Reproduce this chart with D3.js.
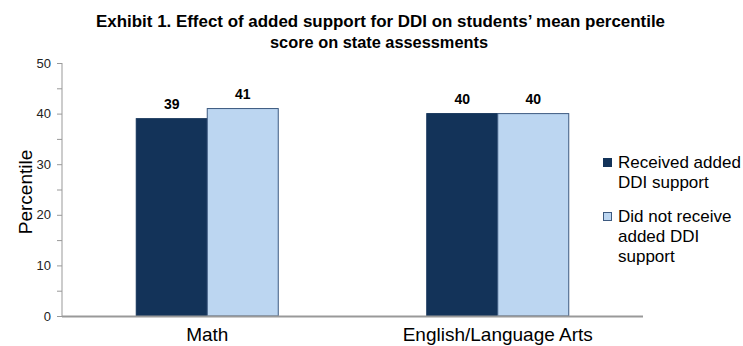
<!DOCTYPE html>
<html>
<head>
<meta charset="utf-8">
<script src="https://cdn.jsdelivr.net/npm/d3@7"></script>
<style>
  body { margin: 0; background: #fff; }
  svg { display: block; }
</style>
</head>
<body>
<svg id="chart" width="743" height="346"></svg>
<script>
// data
const categories = ['Math', 'English/Language Arts'];
const seriesNames = ['Received added DDI support', 'Did not receive added DDI support'];
const received = [39, 40];
const notReceived = [41, 40];
const yTicks = [0, 10, 20, 30, 40, 50];

const legendLines = [
    ['Received added', 'DDI support'],
    ['Did not receive', 'added DDI', 'support']
];
const colors = ['#133359', '#bcd6f1'];
const strokes = ['#133359', '#3d5a80'];

const svg = d3.select('#chart');
const margin = { left: 62, right: 100, top: 63, bottom: 30 };

// title (Calibri-ish, squeezed to the reference width)
const titleFont = 'bold 16px "Liberation Sans", Arial, sans-serif';
svg.append('text')
    .attr('x', 96).attr('y', 27)
    .attr('textLength', 569).attr('lengthAdjust', 'spacingAndGlyphs')
    .style('font', titleFont)
    .text('Exhibit 1. Effect of added support for DDI on students\u2019 mean percentile');
svg.append('text')
    .attr('x', 270).attr('y', 48)
    .attr('textLength', 218).attr('lengthAdjust', 'spacingAndGlyphs')
    .style('font', titleFont)
    .text('score on state assessments');

const g = svg.append('g').attr('transform', `translate(${margin.left},${margin.top})`);

const x0 = d3.scaleBand().domain(categories).range([0, 581]).paddingInner(0).paddingOuter(0);
const x1 = d3.scaleBand().domain([0, 1]).range([0, 142]);
const y = d3.scaleLinear().domain([0, 50]).range([253, 0]);

// y axis
const yAxis = d3.axisLeft(y).tickValues(yTicks).tickSize(5).tickPadding(6);
const ya = g.append('g').call(yAxis);
ya.select('.domain').attr('stroke', '#999').attr('d', 'M0,253V0h0');
ya.selectAll('.tick line').attr('stroke', '#999');
ya.selectAll('.tick text')
    .style('font', '13px "Liberation Sans", Arial, sans-serif')
    .attr('fill', '#222');
// minor ticks
g.append('g').selectAll('line')
    .data(d3.range(5, 50, 10))
    .join('line')
    .attr('x1', -5).attr('x2', 0)
    .attr('y1', d => y(d) + 0.5).attr('y2', d => y(d) + 0.5)
    .attr('stroke', '#999');

// y label
svg.append('text')
    .attr('transform', 'translate(32,192) rotate(-90)')
    .attr('text-anchor', 'middle')
    .style('font', '19px "Liberation Sans", Arial, sans-serif')
    .text('Percentile');

// bars
const rows = categories.map((c, i) => ({ cat: c, vals: [received[i], notReceived[i]] }));
const groups = g.selectAll('.grp')
    .data(rows)
    .join('g')
    .attr('transform', d => `translate(${x0(d.cat) + (x0.bandwidth() - 142) / 2},0)`);

groups.selectAll('rect')
    .data(d => d.vals.map((v, k) => ({ v, k })))
    .join('rect')
    .attr('x', d => x1(d.k))
    .attr('y', d => y(d.v))
    .attr('width', x1.bandwidth())
    .attr('height', d => 253 - y(d.v))
    .attr('fill', d => colors[d.k])
    .attr('stroke', d => strokes[d.k])
    .attr('stroke-width', 1);

groups.selectAll('.lbl')
    .data(d => d.vals.map((v, k) => ({ v, k })))
    .join('text')
    .attr('x', d => x1(d.k) + x1.bandwidth() / 2)
    .attr('y', d => y(d.v) - 10)
    .attr('text-anchor', 'middle')
    .style('font', 'bold 14px "Liberation Sans", Arial, sans-serif')
    .text(d => d.v);

// x axis line
g.append('line')
    .attr('x1', 0).attr('x2', 581)
    .attr('y1', 253.5).attr('y2', 253.5)
    .attr('stroke', '#999').attr('stroke-width', 2);

g.selectAll('.cat')
    .data(categories)
    .join('text')
    .attr('x', d => x0(d) + x0.bandwidth() / 2)
    .attr('y', 278)
    .attr('text-anchor', 'middle')
    .style('font', '19px "Liberation Sans", Arial, sans-serif')
    .text(d => d);

// legend
const legendY = [168, 222];
const leg = svg.append('g');
seriesNames.forEach((name, i) => {
    leg.append('rect')
        .attr('x', 603.5).attr('y', legendY[i] - 9.5)
        .attr('width', 8).attr('height', 8)
        .attr('fill', colors[i]).attr('stroke', strokes[i]);
    legendLines[i].forEach((ln, j) => {
        leg.append('text')
            .attr('x', 618).attr('y', legendY[i] + j * 20)
            .style('font', '17px "Liberation Sans", Arial, sans-serif')
            .text(ln);
    });
});
</script>
</body>
</html>
